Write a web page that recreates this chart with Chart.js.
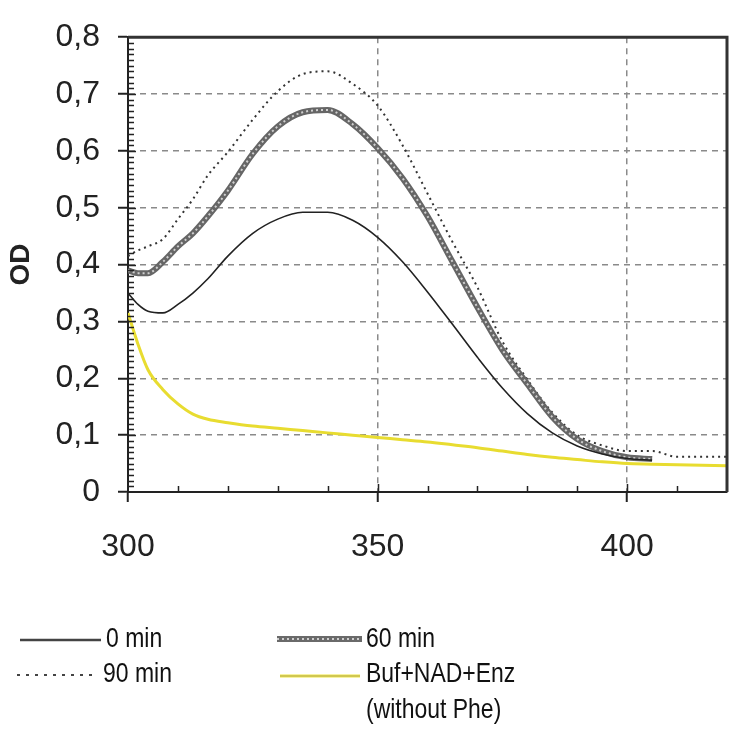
<!DOCTYPE html>
<html>
<head>
<meta charset="utf-8">
<script src="https://cdn.jsdelivr.net/npm/chart.js@4.4.1/dist/chart.umd.min.js"></script>
<style>
  html, body { margin: 0; padding: 0; background: #fff; }
</style>
</head>
<body>
<canvas id="odChart" width="731" height="740"></canvas>
<script>
// wavelength (nm) and OD readings
const wavelengths = [300, 302, 304, 307, 310, 313, 316, 320, 325, 330, 335, 340, 345, 350, 355, 360, 365, 370, 375, 380, 385, 390, 395, 400, 405, 410, 415, 420];
const od0min  = [0.35, 0.33, 0.318, 0.315, 0.33, 0.35, 0.375, 0.415, 0.455, 0.48, 0.492, 0.492, 0.478, 0.448, 0.405, 0.352, 0.295, 0.237, 0.183, 0.138, 0.104, 0.081, 0.067, 0.059, 0.056, null, null, null];
const od60min = [0.39, 0.385, 0.385, 0.405, 0.432, 0.455, 0.485, 0.53, 0.595, 0.643, 0.668, 0.672, 0.647, 0.605, 0.552, 0.485, 0.405, 0.325, 0.25, 0.19, 0.132, 0.093, 0.072, 0.061, 0.058, null, null, null];
const od90min = [0.415, 0.425, 0.432, 0.445, 0.48, 0.515, 0.557, 0.598, 0.655, 0.705, 0.735, 0.74, 0.718, 0.68, 0.61, 0.525, 0.44, 0.36, 0.265, 0.198, 0.14, 0.1, 0.082, 0.072, 0.072, 0.062, 0.062, 0.062];
const odBuf   = [0.315, 0.26, 0.215, 0.18, 0.155, 0.137, 0.128, 0.122, 0.116, 0.112, 0.108, 0.104, 0.1, 0.096, 0.092, 0.088, 0.083, 0.078, 0.072, 0.066, 0.061, 0.057, 0.053, 0.05, 0.049, 0.048, 0.047, 0.046];

const seriesNames = ['0 min', '60 min', '90 min', 'Buf+NAD+Enz', '(without Phe)'];
const xTicks = [300, 350, 400];
const xTickLabels = ['300', '350', '400'];
const yTicks = [0, 0.1, 0.2, 0.3, 0.4, 0.5, 0.6, 0.7, 0.8];
const yTickLabels = ['0', '0,1', '0,2', '0,3', '0,4', '0,5', '0,6', '0,7', '0,8'];

const FONT = "'Liberation Sans', Arial, sans-serif";

function toPoints(vals) {
  return wavelengths.map((w, i) => ({ x: w, y: vals[i] })).filter(p => p.y !== null);
}

// minor ticks, top/right frame and the legend under the plot
const frameAndLegend = {
  id: 'frameAndLegend',
  afterDraw(chart) {
    const { ctx, chartArea: a, scales: { x, y } } = chart;
    ctx.save();
    ctx.strokeStyle = '#222';
    ctx.lineWidth = 1.5;
    ctx.beginPath();
    for (let i = 1; i < 80; i++) {
      const py = Math.round(y.getPixelForValue(i / 100)) + 0.5;
      const len = i % 10 === 0 ? 8 : 6;
      ctx.moveTo(a.left, py);
      ctx.lineTo(a.left + len, py);
    }
    for (let nm = 310; nm < 420; nm += 10) {
      const px = Math.round(x.getPixelForValue(nm)) + 0.5;
      const len = nm % 50 === 0 ? 8 : 6;
      ctx.moveTo(px, a.bottom);
      ctx.lineTo(px, a.bottom - len);
    }
    ctx.stroke();

    // frame
    ctx.lineWidth = 3;
    ctx.strokeStyle = '#333';
    ctx.beginPath();
    ctx.moveTo(a.left, a.top);
    ctx.lineTo(a.right, a.top);
    ctx.lineTo(a.right, a.bottom);
    ctx.stroke();

    // legend
    const sample = (kind, x1, x2, yy) => {
      ctx.save();
      if (kind === 0) {
        ctx.strokeStyle = '#444'; ctx.lineWidth = 2.5;
        ctx.beginPath(); ctx.moveTo(x1, yy); ctx.lineTo(x2, yy); ctx.stroke();
      } else if (kind === 1) {
        ctx.strokeStyle = '#6a6a6a'; ctx.lineWidth = 6;
        ctx.beginPath(); ctx.moveTo(x1, yy); ctx.lineTo(x2, yy); ctx.stroke();
        ctx.strokeStyle = '#cfcfcf'; ctx.lineWidth = 2; ctx.setLineDash([2, 3]);
        ctx.beginPath(); ctx.moveTo(x1, yy); ctx.lineTo(x2, yy); ctx.stroke();
      } else if (kind === 2) {
        ctx.strokeStyle = '#444'; ctx.lineWidth = 2; ctx.setLineDash([3, 6]);
        ctx.beginPath(); ctx.moveTo(x1, yy); ctx.lineTo(x2, yy); ctx.stroke();
      } else {
        ctx.strokeStyle = '#f0e640'; ctx.lineWidth = 3;
        ctx.beginPath(); ctx.moveTo(x1, yy); ctx.lineTo(x2, yy); ctx.stroke();
        ctx.strokeStyle = '#b0a860'; ctx.lineWidth = 1;
        ctx.beginPath(); ctx.moveTo(x1, yy); ctx.lineTo(x2, yy); ctx.stroke();
      }
      ctx.restore();
    };
    // the legend font is condensed, so squeeze it horizontally
    const label = (text, tx, ty) => {
      ctx.save();
      ctx.translate(tx, ty);
      ctx.scale(0.82, 1);
      ctx.fillText(text, 0, 0);
      ctx.restore();
    };
    ctx.fillStyle = '#111';
    ctx.font = '28px ' + FONT;
    ctx.textBaseline = 'middle';
    ctx.textAlign = 'left';
    sample(0, 20, 101, 640);
    label(seriesNames[0], 106, 639);
    sample(1, 277, 362, 639);
    label(seriesNames[1], 366, 639);
    sample(2, 17, 98, 675);
    label(seriesNames[2], 103, 674);
    sample(3, 280, 360, 676);
    label(seriesNames[3], 366, 674);
    label(seriesNames[4], 366, 710);
    ctx.restore();
  }
};

const lineBase = { pointRadius: 0, fill: false, cubicInterpolationMode: 'monotone' };

new Chart(document.getElementById('odChart'), {
  type: 'line',
  data: {
    datasets: [
      { ...lineBase, label: seriesNames[0], data: toPoints(od0min), borderColor: '#222', borderWidth: 1.6 },
      { ...lineBase, label: seriesNames[1], data: toPoints(od60min), borderColor: '#cfcfcf', borderWidth: 2, borderDash: [2, 3] },
      { ...lineBase, label: seriesNames[1], data: toPoints(od60min), borderColor: '#666', borderWidth: 6 },
      { ...lineBase, label: seriesNames[2], data: toPoints(od90min), borderColor: '#333', borderWidth: 2, borderDash: [2, 4] },
      { ...lineBase, label: seriesNames[3], data: toPoints(odBuf), borderColor: '#e8dc30', borderWidth: 3 }
    ]
  },
  options: {
    responsive: false,
    animation: false,
    layout: { padding: { top: 28, right: 4, bottom: 174, left: 0 } },
    plugins: { legend: { display: false }, tooltip: { enabled: false } },
    scales: {
      x: {
        type: 'linear', min: 300, max: 420,
        afterBuildTicks: s => { s.ticks = xTicks.map(v => ({ value: v })); },
        afterFit: s => { s.height = 74; },
        ticks: {
          callback: (v, i) => xTickLabels[i],
          autoSkip: false, maxRotation: 0,
          padding: 26, color: '#222',
          font: { family: FONT, size: 32 }
        },
        grid: {
          color: c => (c.tick && c.tick.value === 300) ? 'rgba(0,0,0,0)' : '#8a8a8a',
          lineWidth: 1.5, tickLength: 10, tickColor: '#222', tickWidth: 2
        },
        border: { display: true, color: '#222', width: 2, dash: [6, 5] }
      },
      y: {
        min: 0, max: 0.8,
        afterBuildTicks: s => { s.ticks = yTicks.map(v => ({ value: v })); },
        afterFit: s => { s.width = 128; },
        ticks: {
          callback: (v, i) => yTickLabels[i],
          padding: 18, color: '#222',
          font: { family: FONT, size: 32 }
        },
        grid: {
          color: c => (c.tick && (c.tick.value === 0 || c.tick.value >= 0.8)) ? 'rgba(0,0,0,0)' : '#8a8a8a',
          lineWidth: 1.5, tickLength: 10, tickColor: '#222', tickWidth: 2
        },
        border: { display: true, color: '#222', width: 2, dash: [6, 5] },
        title: {
          display: true, text: 'OD', color: '#222',
          font: { family: FONT, size: 28, weight: 'bold' },
          padding: { top: 4, bottom: 0 }
        }
      }
    }
  },
  plugins: [frameAndLegend]
});
</script>
</body>
</html>
